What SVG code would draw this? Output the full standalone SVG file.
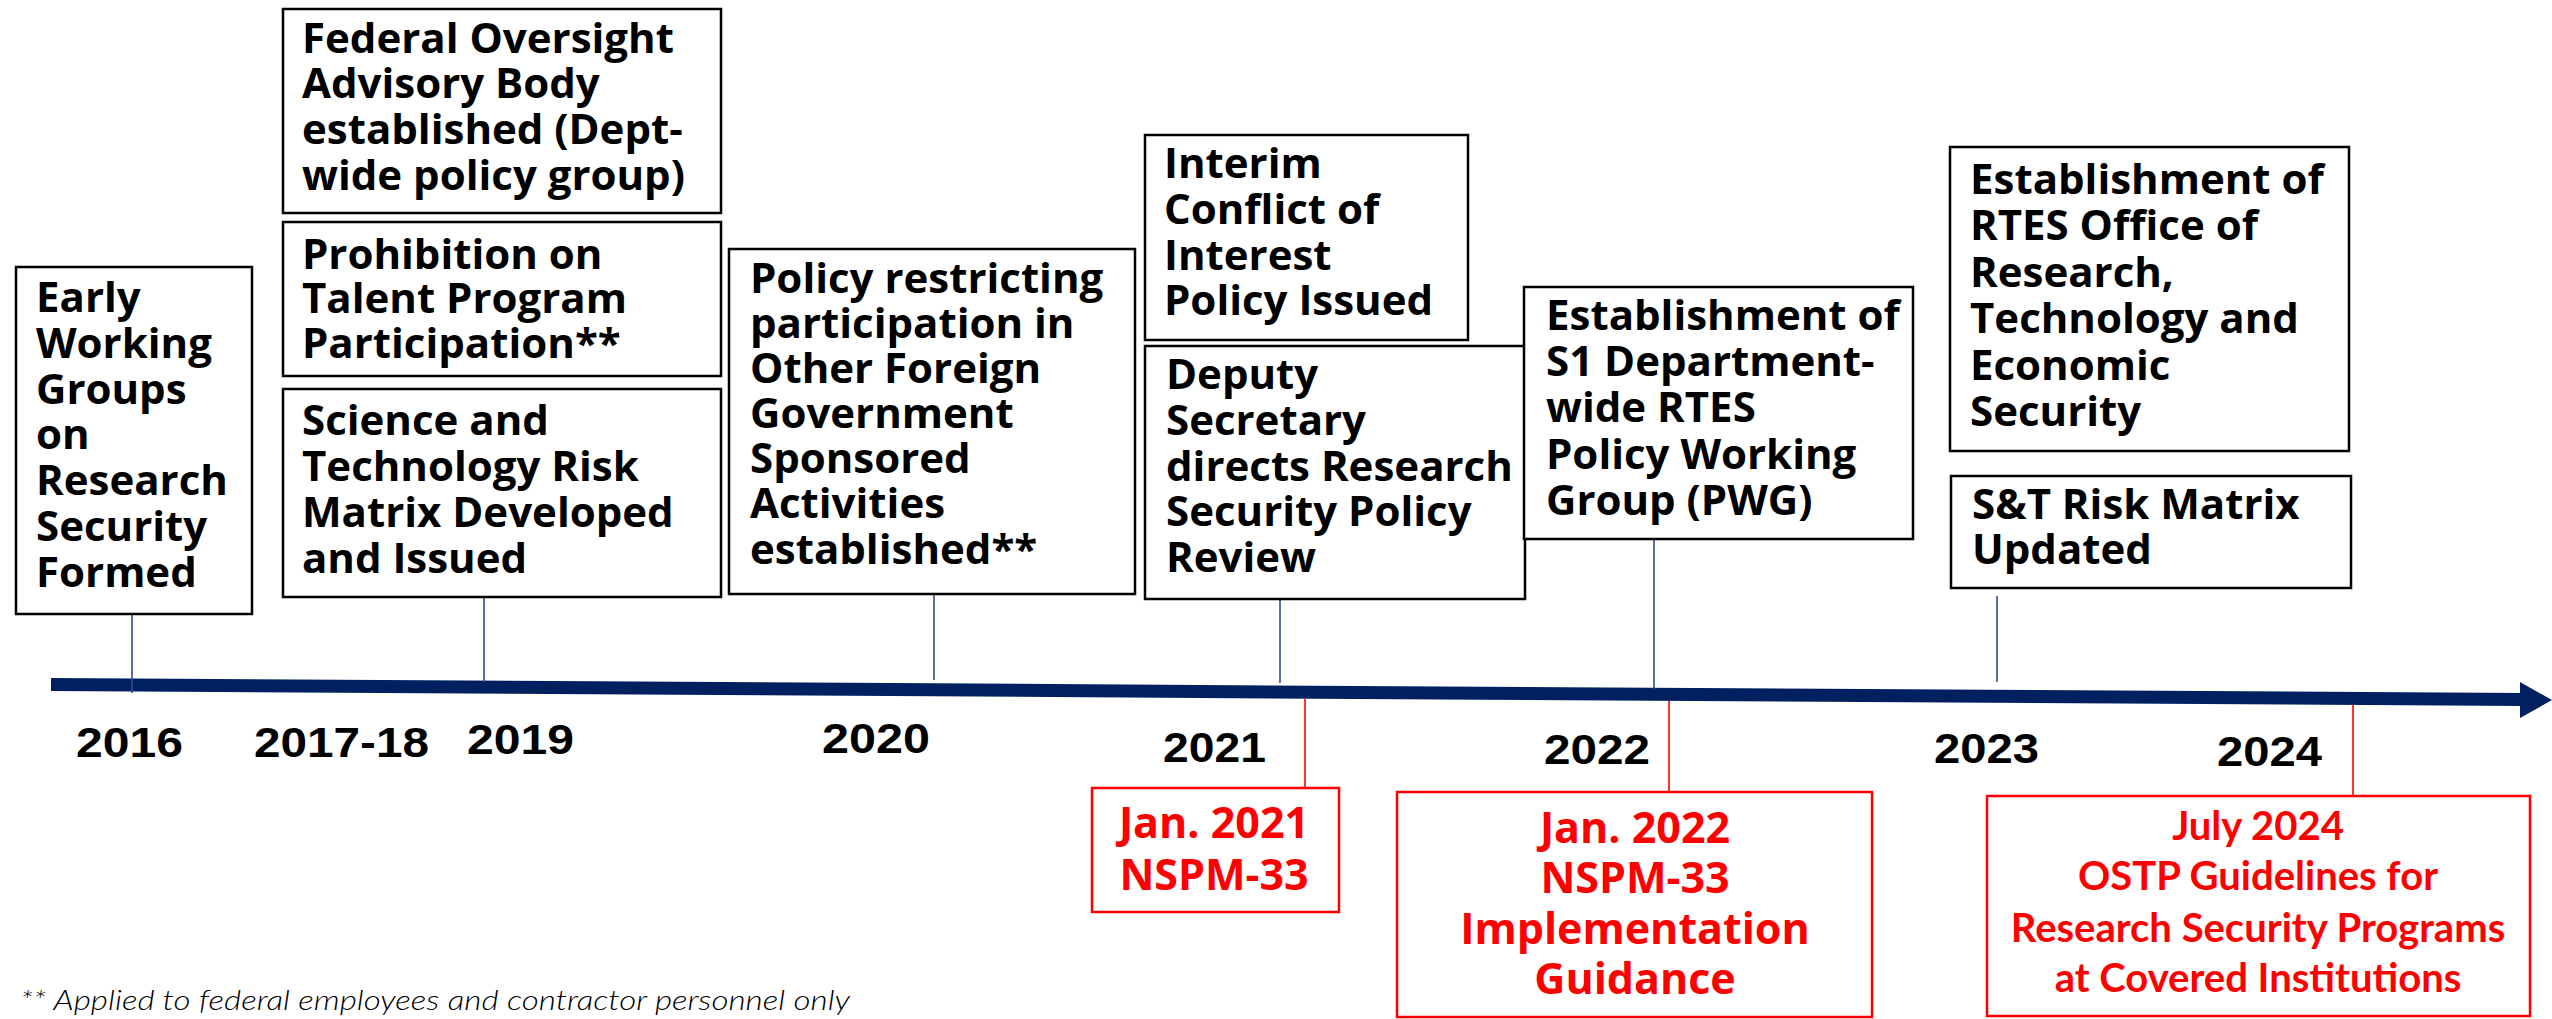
<svg xmlns="http://www.w3.org/2000/svg" width="2552" height="1019" viewBox="0 0 2552 1019">
<style>
.bx{fill:#fff;stroke:#000;stroke-width:2.5}
.rbx{fill:#fff;stroke:#ff0000;stroke-width:2.5}
.t{font-family:"Open Sans","DejaVu Sans",sans-serif;font-weight:700;font-size:42px;fill:#000}
.rt{font-family:"Open Sans","DejaVu Sans",sans-serif;font-weight:700;font-size:43px;fill:#ff0000;text-anchor:middle}
.mt{font-family:Lato,"Open Sans",sans-serif;font-weight:700;font-size:40px;fill:#ff0000;text-anchor:middle}
.yr{font-family:"Liberation Sans",Arial,sans-serif;font-weight:700;font-size:43px;fill:#000}
.fn{font-family:Lato,"Open Sans",sans-serif;font-weight:300;font-style:italic;font-size:28px;fill:#000}
.cn{stroke:#2f4b8f;stroke-width:1.6;fill:none}
.rc{stroke:#ff0000;stroke-width:1.6;fill:none}
</style>

<g id="timeline">
<line x1="51" y1="684.5" x2="2524" y2="699.5" stroke="#002060" stroke-width="13"/>
<polygon points="2520,682 2552,700 2520,718" fill="#002060"/>
</g>

<g id="connectors">
<line class="cn" x1="132" y1="614" x2="132" y2="693"/>
<line class="cn" x1="484" y1="597" x2="484" y2="682"/>
<line class="cn" x1="934" y1="594" x2="934" y2="680"/>
<line class="cn" x1="1280" y1="599" x2="1280" y2="683"/>
<line class="cn" x1="1654" y1="539" x2="1654" y2="689"/>
<line class="cn" x1="1997" y1="596" x2="1997" y2="682"/>
<line class="rc" x1="1305" y1="699" x2="1305" y2="787"/>
<line class="rc" x1="1669" y1="701" x2="1669" y2="791"/>
<line class="rc" x1="2353" y1="705" x2="2353" y2="795"/>
</g>

<g id="node-early">
<rect class="bx" x="16" y="267" width="236" height="347"/>
<text class="t"><tspan x="36" y="312">Early</tspan><tspan x="36" y="358">Working</tspan><tspan x="36" y="404">Groups</tspan><tspan x="36" y="449">on</tspan><tspan x="36" y="495">Research</tspan><tspan x="36" y="541">Security</tspan><tspan x="36" y="587">Formed</tspan></text>
</g>

<g id="node-federal">
<rect class="bx" x="283" y="9" width="438" height="204"/>
<text class="t"><tspan x="302" y="53">Federal Oversight</tspan><tspan x="302" y="98">Advisory Body</tspan><tspan x="302" y="144">established (Dept-</tspan><tspan x="302" y="190">wide policy group)</tspan></text>
</g>

<g id="node-prohibition">
<rect class="bx" x="283" y="222" width="438" height="154"/>
<text class="t"><tspan x="302" y="269">Prohibition on</tspan><tspan x="302" y="313">Talent Program</tspan><tspan x="302" y="358">Participation**</tspan></text>
</g>

<g id="node-science">
<rect class="bx" x="283" y="389" width="438" height="208"/>
<text class="t"><tspan x="302" y="435">Science and</tspan><tspan x="302" y="481">Technology Risk</tspan><tspan x="302" y="527">Matrix Developed</tspan><tspan x="302" y="573">and Issued</tspan></text>
</g>

<g id="node-policy">
<rect class="bx" x="729" y="249" width="406" height="345"/>
<text class="t"><tspan x="750" y="293">Policy restricting</tspan><tspan x="750" y="338">participation in</tspan><tspan x="750" y="383">Other Foreign</tspan><tspan x="750" y="428">Government</tspan><tspan x="750" y="473">Sponsored</tspan><tspan x="750" y="518">Activities</tspan><tspan x="750" y="564">established**</tspan></text>
</g>

<g id="node-interim">
<rect class="bx" x="1145" y="135" width="323" height="205"/>
<text class="t"><tspan x="1164" y="178">Interim</tspan><tspan x="1164" y="224">Conflict of</tspan><tspan x="1164" y="270">Interest</tspan><tspan x="1164" y="315">Policy Issued</tspan></text>
</g>

<g id="node-deputy">
<rect class="bx" x="1145" y="346" width="380" height="253"/>
<text class="t"><tspan x="1166" y="389">Deputy</tspan><tspan x="1166" y="435">Secretary</tspan><tspan x="1166" y="481">directs Research</tspan><tspan x="1166" y="526">Security Policy</tspan><tspan x="1166" y="572">Review</tspan></text>
</g>

<g id="node-s1">
<rect class="bx" x="1524" y="287" width="389" height="252"/>
<text class="t"><tspan x="1546" y="330">Establishment of</tspan><tspan x="1546" y="376">S1 Department-</tspan><tspan x="1546" y="422">wide RTES</tspan><tspan x="1546" y="469">Policy Working</tspan><tspan x="1546" y="515">Group (PWG)</tspan></text>
</g>

<g id="node-rtes">
<rect class="bx" x="1950" y="147" width="399" height="304"/>
<text class="t"><tspan x="1970" y="194">Establishment of</tspan><tspan x="1970" y="240">RTES Office of</tspan><tspan x="1970" y="287">Research,</tspan><tspan x="1970" y="333">Technology and</tspan><tspan x="1970" y="380">Economic</tspan><tspan x="1970" y="426">Security</tspan></text>
</g>

<g id="node-matrix">
<rect class="bx" x="1951" y="476" width="400" height="112"/>
<text class="t"><tspan x="1972" y="519">S&amp;T Risk Matrix</tspan><tspan x="1972" y="564">Updated</tspan></text>
</g>

<g id="node-nspm2021">
<rect class="rbx" x="1092" y="788" width="247" height="124"/>
<text class="rt"><tspan x="1214" y="838">Jan. 2021</tspan><tspan x="1214" y="890">NSPM-33</tspan></text>
</g>

<g id="node-nspm2022">
<rect class="rbx" x="1397" y="792" width="475" height="225"/>
<text class="rt"><tspan x="1635" y="843">Jan. 2022</tspan><tspan x="1635" y="893">NSPM-33</tspan><tspan x="1635" y="944">Implementation</tspan><tspan x="1635" y="994">Guidance</tspan></text>
</g>

<g id="node-ostp">
<rect class="rbx" x="1987" y="796" width="543" height="220"/>
<text class="mt"><tspan x="2258" y="840">July 2024</tspan><tspan x="2258" y="890">OSTP Guidelines for</tspan><tspan x="2258" y="942">Research Security Programs</tspan><tspan x="2258" y="992">at Covered Institutions</tspan></text>
</g>

<g id="years">
<text class="yr" x="76" y="757" textLength="107" lengthAdjust="spacingAndGlyphs">2016</text>
<text class="yr" x="254" y="757" textLength="175" lengthAdjust="spacingAndGlyphs">2017-18</text>
<text class="yr" x="467" y="754" textLength="107" lengthAdjust="spacingAndGlyphs">2019</text>
<text class="yr" x="822" y="753" textLength="108" lengthAdjust="spacingAndGlyphs">2020</text>
<text class="yr" x="1163" y="762" textLength="103" lengthAdjust="spacingAndGlyphs">2021</text>
<text class="yr" x="1544" y="764" textLength="106" lengthAdjust="spacingAndGlyphs">2022</text>
<text class="yr" x="1934" y="763" textLength="105" lengthAdjust="spacingAndGlyphs">2023</text>
<text class="yr" x="2217" y="766" textLength="105" lengthAdjust="spacingAndGlyphs">2024</text>
</g>

<g id="footnote">
<text class="fn" x="20" y="1010" textLength="830" lengthAdjust="spacingAndGlyphs">** Applied to federal employees and contractor personnel only</text>
</g>
</svg>
